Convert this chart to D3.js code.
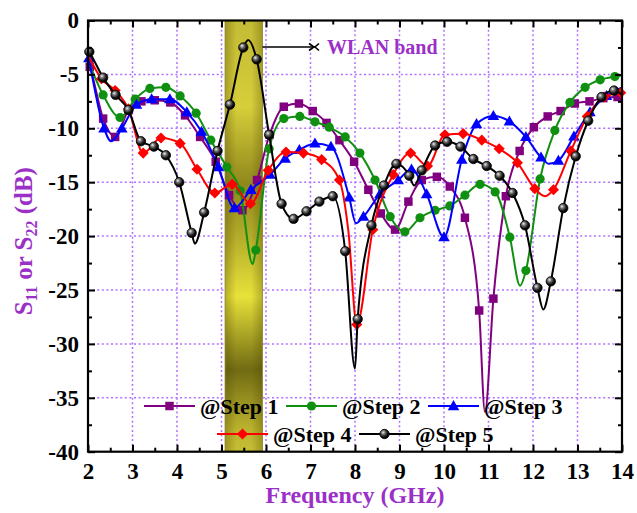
<!DOCTYPE html>
<html>
<head>
<meta charset="utf-8">
<script src="https://cdn.jsdelivr.net/npm/d3@7"></script>
<style>
  body { margin: 0; background: #fff; }
  svg { display: block; }
</style>
</head>
<body>
<svg id="chart" width="637" height="513"></svg>
<script>
// ---- Data -------------------------------------------------------------
const xTickValues = [2, 3, 4, 5, 6, 7, 8, 9, 10, 11, 12, 13, 14];
const yTickValues = [0, -5, -10, -15, -20, -25, -30, -35, -40];
const wlanBand = [5.08, 5.92];           // GHz
const seriesNames = ["@Step 1", "@Step 2", "@Step 3", "@Step 4", "@Step 5"];

// [frequency GHz, dB]; "Marked" points carry a symbol, "Unmarked" are curve-only points
const step1Marked = [[2.04,-4.3],[2.34,-9.1],[2.61,-10.8],[2.91,-8.3],[3.2,-7.5],[3.5,-7.4],[3.85,-7.6],
  [4.18,-8.8],[4.52,-10.8],[4.87,-13.1],[5.17,-16.2],[5.47,-17.6],[5.8,-14.8],[6.08,-10.6],[6.4,-8.0],
  [6.74,-7.7],[7.05,-8.4],[7.36,-9.5],[7.65,-11.1],[7.98,-13.1],[8.3,-15.7],[8.58,-17.9],[8.9,-19.4],
  [9.2,-16.8],[9.5,-14.8],[9.84,-14.5],[10.13,-15.4],[10.47,-18.3],[10.79,-26.9],[11.11,-25.8],
  [11.39,-16.3],[11.7,-12.1],[12.02,-9.9],[12.33,-8.9],[12.62,-8.4],[12.94,-7.7],[13.27,-7.5],
  [13.58,-7.2],[13.9,-7.1]];
const step1Unmarked = [[2.0,-3.9],[10.92,-36.3],[14.0,-7.2]];

const step2Marked = [[2.34,-6.9],[2.72,-9.0],[3.06,-7.3],[3.39,-6.3],[3.75,-6.2],[4.07,-7.0],[4.43,-8.6],
  [4.76,-11.1],[5.12,-13.6],[5.42,-15.8],[5.77,-21.3],[6.07,-11.9],[6.4,-9.1],[6.76,-8.9],[7.1,-9.4],
  [7.42,-9.9],[7.78,-10.8],[8.11,-12.3],[8.45,-14.8],[8.79,-18.2],[9.12,-19.6],[9.46,-18.3],[9.8,-17.6],
  [10.13,-17.2],[10.47,-16.2],[10.81,-15.2],[11.15,-15.9],[11.48,-20.1],[11.84,-23.2],[12.16,-14.7],
  [12.49,-10.2],[12.83,-7.6],[13.17,-6.2],[13.51,-5.5],[13.84,-5.2]];
const step2Unmarked = [[2.0,-3.7],[5.7,-22.6],[11.71,-24.6],[14.0,-5.1]];

const step3Marked = [[2.02,-3.5],[2.36,-10.0],[2.76,-10.0],[3.09,-7.8],[3.43,-7.3],[3.84,-7.3],[4.22,-8.5],
  [4.55,-10.3],[4.93,-13.6],[5.29,-17.4],[5.66,-15.7],[6.09,-14.3],[6.43,-12.8],[6.75,-12.0],[7.1,-11.4],
  [7.46,-11.7],[7.87,-16.4],[8.19,-18.2],[8.56,-16.1],[8.97,-14.8],[9.27,-13.8],[9.61,-16.1],[10.0,-20.1],
  [10.4,-12.9],[10.73,-9.6],[11.11,-8.85],[11.47,-9.35],[11.84,-10.8],[12.18,-12.7],[12.57,-13.0],
  [12.92,-10.75],[13.28,-8.5],[13.65,-7.0]];
const step3Unmarked = [[2.52,-11.2],[8.02,-18.8],[12.36,-13.3],[14.0,-6.2]];

const step4Marked = [[2.3,-5.4],[2.61,-6.5],[2.91,-8.2],[3.24,-12.3],[3.64,-10.9],[4.07,-11.4],[4.45,-13.8],
  [4.85,-16.0],[5.24,-15.2],[5.65,-17.0],[6.05,-13.9],[6.45,-12.2],[6.84,-12.3],[7.25,-12.9],[7.65,-14.8],
  [8.04,-28.2],[8.4,-19.4],[8.86,-14.3],[9.25,-12.3],[9.63,-13.5],[10.02,-10.6],[10.43,-10.5],
  [10.85,-11.1],[11.24,-11.9],[11.65,-13.2],[12.04,-15.6],[12.46,-15.7],[12.85,-12.1],[13.22,-8.9],
  [13.6,-7.1],[13.97,-6.7]];
const step4Unmarked = [[2.0,-3.2],[7.85,-19.5],[12.27,-16.3]];

const step5Marked = [[2.03,-2.9],[2.34,-5.3],[2.62,-6.9],[2.91,-8.3],[3.19,-11.2],[3.48,-11.7],[3.75,-12.5],
  [4.05,-15.0],[4.33,-19.7],[4.61,-17.8],[4.91,-12.1],[5.19,-7.8],[5.49,-2.5],[5.79,-3.6],[6.07,-10.6],
  [6.35,-17.0],[6.62,-18.4],[6.91,-17.7],[7.2,-16.8],[7.5,-16.3],[7.78,-21.4],[8.06,-27.7],[8.37,-19.0],
  [8.65,-15.3],[8.93,-13.3],[9.22,-14.4],[9.5,-13.9],[9.8,-11.6],[10.07,-11.25],[10.37,-11.7],
  [10.66,-12.85],[10.96,-13.5],[11.25,-14.4],[11.54,-16.0],[11.82,-19.0],[12.1,-24.8],[12.4,-24.2],
  [12.68,-17.4],[12.96,-12.6],[13.24,-9.3],[13.54,-7.1],[13.82,-6.5]];
const step5Unmarked = [[2.0,-2.7],[4.4,-20.7],[5.6,-1.8],[8.0,-32.3],[9.33,-15.3],[12.23,-26.8],[14.0,-6.9]];

// ---- Layout ------------------------------------------------------------
const svg = d3.select("#chart");
const plot = { left: 88, right: 622, top: 20.5, bottom: 451.7 };
const x = d3.scaleLinear().domain([2, 14]).range([plot.left, plot.right]);
const y = d3.scaleLinear().domain([0, -40]).range([plot.top, plot.bottom]);
const serif = "'Liberation Serif', 'Times New Roman', serif";
const purpleText = "#9b30c8";
const gridColor = "#b070ff";

const defs = svg.append("defs");

// band fill: olive/yellow banded vertical gradient plus darker side edges
const bandGrad = defs.append("linearGradient").attr("id", "bandFill")
  .attr("x1", 0).attr("y1", 0).attr("x2", 0).attr("y2", 1);
[[0, "#c3bb34"], [0.2, "#d6ce3a"], [0.38, "#8f871b"], [0.5, "#b3ab2a"], [0.64, "#e8e23a"],
 [0.81, "#716b13"], [0.95, "#bcb42e"], [1, "#c6be34"]]
  .forEach(([o, c]) => bandGrad.append("stop").attr("offset", o).attr("stop-color", c));
const bandEdge = defs.append("linearGradient").attr("id", "bandEdge")
  .attr("x1", 0).attr("y1", 0).attr("x2", 1).attr("y2", 0);
[[0, "rgba(70,60,0,0.30)"], [0.3, "rgba(70,60,0,0)"], [0.7, "rgba(70,60,0,0)"], [1, "rgba(70,60,0,0.30)"]]
  .forEach(([o, c]) => bandEdge.append("stop").attr("offset", o).attr("stop-color", c));

// glossy sphere for the Step 5 markers
const sphere = defs.append("radialGradient").attr("id", "sphere")
  .attr("cx", "40%").attr("cy", "38%").attr("r", "60%").attr("fx", "35%").attr("fy", "32%");
[[0, "#f0f0f0"], [0.35, "#707070"], [0.75, "#111"], [1, "#000"]]
  .forEach(([o, c]) => sphere.append("stop").attr("offset", o).attr("stop-color", c));

// ---- Grid ----------------------------------------------------------------
const grid = svg.append("g")
  .attr("stroke", gridColor).attr("stroke-width", 1.5).attr("stroke-dasharray", "2 2.6");
grid.selectAll("line.v").data(xTickValues.slice(1, -1)).join("line").attr("class", "v")
  .attr("x1", d => x(d)).attr("x2", d => x(d)).attr("y1", plot.top).attr("y2", plot.bottom);
grid.selectAll("line.h").data(yTickValues.slice(1, -1)).join("line").attr("class", "h")
  .attr("y1", d => y(d)).attr("y2", d => y(d)).attr("x1", plot.left).attr("x2", plot.right);

// ---- WLAN band -------------------------------------------------------------
const bx0 = x(wlanBand[0]), bx1 = x(wlanBand[1]);
svg.append("rect").attr("x", bx0).attr("y", plot.top).attr("width", bx1 - bx0)
  .attr("height", plot.bottom - plot.top).attr("fill", "url(#bandFill)");
svg.append("rect").attr("x", bx0).attr("y", plot.top).attr("width", bx1 - bx0)
  .attr("height", plot.bottom - plot.top).attr("fill", "url(#bandEdge)")
  .attr("stroke", "#8a8420").attr("stroke-width", 0.8);

// ---- Curves --------------------------------------------------------------
const series = [
  { name: seriesNames[0], color: "#800080", marked: step1Marked, extra: step1Unmarked, sym: "square" },
  { name: seriesNames[1], color: "#109010", marked: step2Marked, extra: step2Unmarked, sym: "circle" },
  { name: seriesNames[2], color: "#0000ff", marked: step3Marked, extra: step3Unmarked, sym: "triangle" },
  { name: seriesNames[3], color: "#ff0000", marked: step4Marked, extra: step4Unmarked, sym: "diamond" },
  { name: seriesNames[4], color: "#000000", marked: step5Marked, extra: step5Unmarked, sym: "sphere" }
];

const line = d3.line().x(d => x(d[0])).y(d => y(d[1])).curve(d3.curveMonotoneX);

function drawMarker(g, s, cx, cy) {
  const t = `translate(${cx},${cy})`;
  if (s.sym === "square") {
    g.append("path").attr("d", d3.symbol(d3.symbolSquare, 72)()).attr("transform", t).attr("fill", s.color);
  } else if (s.sym === "circle") {
    g.append("circle").attr("cx", cx).attr("cy", cy).attr("r", 4.6).attr("fill", s.color);
  } else if (s.sym === "triangle") {
    g.append("path").attr("d", d3.symbol(d3.symbolTriangle, 58)()).attr("transform", `translate(${cx},${cy + 0.8})`).attr("fill", s.color);
  } else if (s.sym === "diamond") {
    g.append("path").attr("d", d3.symbol(d3.symbolSquare, 62)()).attr("transform", t + " rotate(45)").attr("fill", s.color);
  } else {
    g.append("circle").attr("cx", cx).attr("cy", cy).attr("r", 4.7).attr("fill", "url(#sphere)")
      .attr("stroke", "#000").attr("stroke-width", 0.8);
  }
}

const curves = svg.append("g");
series.forEach(s => {
  const pts = s.marked.concat(s.extra).sort((a, b) => a[0] - b[0]);
  const g = curves.append("g");
  g.append("path").datum(pts).attr("d", line).attr("fill", "none")
    .attr("stroke", s.color).attr("stroke-width", 2).attr("stroke-linejoin", "round");
  s.marked.forEach(p => drawMarker(g, s, x(p[0]), y(p[1])));
});

// ---- Axes and frame ----------------------------------------------------
const fmt = d => String(d);
function styleAxis(g, withText) {
  g.select(".domain").remove();
  g.selectAll(".tick line").attr("stroke", "#000").attr("stroke-width", 2);
  if (withText) {
    g.selectAll(".tick text").attr("fill", "#000").attr("font-family", serif)
      .attr("font-weight", "bold").attr("font-size", 23);
  } else {
    g.selectAll(".tick text").remove();
  }
}
const minorX = d3.range(2.5, 14, 1);
const minorY = d3.range(-2.5, -40, -5);

svg.append("g").attr("transform", `translate(0,${plot.bottom})`)
  .call(d3.axisBottom(x).tickValues(xTickValues).tickFormat(fmt).tickSizeInner(-7).tickSizeOuter(0).tickPadding(11))
  .call(g => styleAxis(g, true));
svg.append("g").attr("transform", `translate(0,${plot.bottom})`)
  .call(d3.axisBottom(x).tickValues(minorX).tickSizeInner(-4).tickSizeOuter(0)).call(g => styleAxis(g, false));
svg.append("g").attr("transform", `translate(0,${plot.top})`)
  .call(d3.axisTop(x).tickValues(xTickValues).tickSizeInner(-7).tickSizeOuter(0)).call(g => styleAxis(g, false));
svg.append("g").attr("transform", `translate(0,${plot.top})`)
  .call(d3.axisTop(x).tickValues(minorX).tickSizeInner(-4).tickSizeOuter(0)).call(g => styleAxis(g, false));

svg.append("g").attr("transform", `translate(${plot.left},0)`)
  .call(d3.axisLeft(y).tickValues(yTickValues).tickFormat(fmt).tickSizeInner(-7).tickSizeOuter(0).tickPadding(9))
  .call(g => styleAxis(g, true));
svg.append("g").attr("transform", `translate(${plot.left},0)`)
  .call(d3.axisLeft(y).tickValues(minorY).tickSizeInner(-4).tickSizeOuter(0)).call(g => styleAxis(g, false));
svg.append("g").attr("transform", `translate(${plot.right},0)`)
  .call(d3.axisRight(y).tickValues(yTickValues).tickSizeInner(-7).tickSizeOuter(0)).call(g => styleAxis(g, false));
svg.append("g").attr("transform", `translate(${plot.right},0)`)
  .call(d3.axisRight(y).tickValues(minorY).tickSizeInner(-4).tickSizeOuter(0)).call(g => styleAxis(g, false));

svg.append("rect").attr("x", plot.left).attr("y", plot.top)
  .attr("width", plot.right - plot.left).attr("height", plot.bottom - plot.top)
  .attr("fill", "none").attr("stroke", "#000").attr("stroke-width", 2.2);

// ---- Axis titles -------------------------------------------------------
svg.append("text").attr("x", (plot.left + plot.right) / 2).attr("y", 503)
  .attr("text-anchor", "middle").attr("fill", purpleText).attr("font-family", serif)
  .attr("font-weight", "bold").attr("font-size", 24).text("Frequency (GHz)");

const yTitle = svg.append("text")
  .attr("transform", `translate(32,${(plot.top + plot.bottom) / 2 + 5}) rotate(-90)`)
  .attr("text-anchor", "middle").attr("fill", purpleText).attr("font-family", serif)
  .attr("font-weight", "bold").attr("font-size", 25);
yTitle.append("tspan").text("S");
yTitle.append("tspan").attr("font-size", 16).attr("dy", 5).text("11");
yTitle.append("tspan").attr("dy", -5).text(" or S");
yTitle.append("tspan").attr("font-size", 16).attr("dy", 5).text("22");
yTitle.append("tspan").attr("dy", -5).text(" (dB)");

// ---- WLAN band annotation ----------------------------------------------
const annY = 47;
const ann = svg.append("g").attr("stroke", "#000").attr("stroke-width", 1.6).attr("fill", "none");
ann.append("line").attr("x1", bx1).attr("x2", 316).attr("y1", annY).attr("y2", annY);
ann.append("path").attr("d", `M309,${annY - 3.5} L314,${annY} L309,${annY + 3.5}`);
ann.append("path").attr("d", `M319,${annY - 3.5} L315,${annY} L319,${annY + 3.5}`);
svg.append("text").attr("x", 327).attr("y", 54).attr("fill", purpleText)
  .attr("font-family", serif).attr("font-weight", "bold").attr("font-size", 20).text("WLAN band");

// ---- Legend ------------------------------------------------------------
const legendPos = [[144, 406], [286, 406], [428, 406], [217, 434], [359, 434]];
const legend = svg.append("g");
series.forEach((s, i) => {
  const [lx, ly] = legendPos[i];
  const g = legend.append("g");
  g.append("line").attr("x1", lx).attr("x2", lx + 51).attr("y1", ly).attr("y2", ly)
    .attr("stroke", s.color).attr("stroke-width", 2);
  drawMarker(g, s, lx + 25.5, ly);
  g.append("text").attr("x", lx + 56).attr("y", ly + 7.5).attr("fill", "#000")
    .attr("font-family", serif).attr("font-weight", "bold").attr("font-size", 22).text(s.name);
});
</script>
</body>
</html>
